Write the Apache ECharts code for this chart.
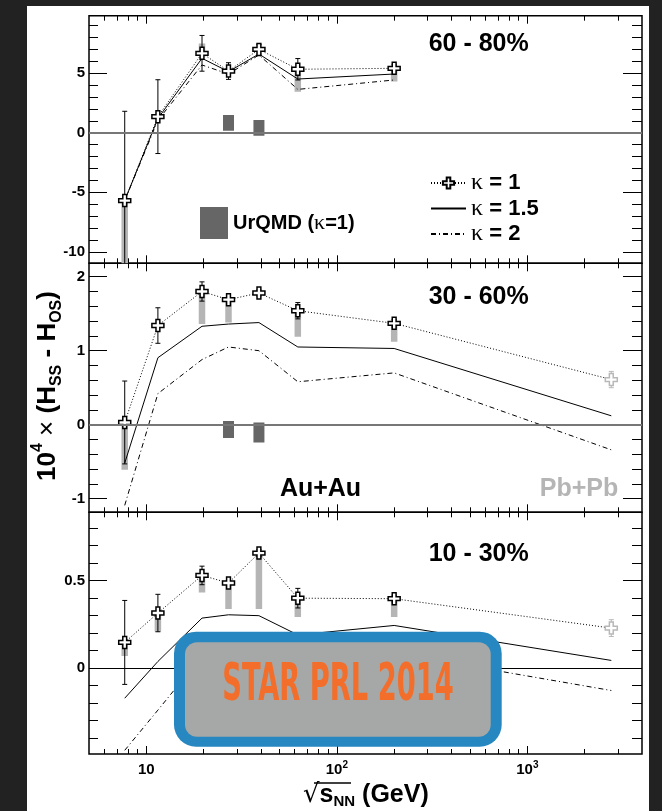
<!DOCTYPE html>
<html><head><meta charset="utf-8">
<script src="https://cdn.jsdelivr.net/npm/echarts@6/dist/echarts.min.js"></script>
<style>
html,body{margin:0;padding:0;background:#222;}
#bg{position:absolute;left:27px;top:6px;width:622px;height:805px;background:#fff;}
#chart{position:absolute;left:0;top:0;width:662px;height:811px;}
</style></head><body><div id="bg"></div><div id="chart"></div>
<script>
// ---------- data ----------
const energies = [7.7, 11.5, 19.6, 27, 39, 62.4, 200];
const energyPbPb = 2760;
const energyUrQMD = [27, 39];

// 60 - 80 %
const k1_60_80   = [-5.7, 1.35, 6.67, 5.18, 7.0, 5.33, 5.41];
const stat_60_80 = [7.5, 3.1, 1.5, 0.7, 0.4, 0.9, 0.3];
const sysLo_60_80 = [-15, null, 6.6, null, null, 3.45, 4.3];
const sysHi_60_80 = [-5.7, null, 7.5, null, null, 5.33, 5.41];
const k15_60_80  = [-5.7, 1.2, 6.25, 5.13, 6.61, 4.51, 4.93];
const k2_60_80   = [-5.7, 1.05, 5.69, 4.93, 6.53, 3.64, 4.43];
const urqmdLo_60_80 = [0.17, -0.25];
const urqmdHi_60_80 = [1.49, 1.07];

// 30 - 60 %
const k1_30_60   = [0.03, 1.34, 1.80, 1.69, 1.78, 1.54, 1.37];
const stat_30_60 = [0.56, 0.24, 0.13, 0.05, 0.04, 0.11, 0.05];
const sysLo_30_60 = [-0.61, null, 1.36, 1.38, null, 1.19, 1.12];
const sysHi_30_60 = [0.03, null, 1.80, 1.69, null, 1.54, 1.37];
const k15_30_60  = [-0.52, 0.905, 1.33, 1.36, 1.38, 1.05, 1.03];
const k2_30_60   = [-1.09, 0.42, 0.88, 1.05, 1.0, 0.58, 0.70];
const urqmdLo_30_60 = [-0.18, -0.24];
const urqmdHi_30_60 = [0.05, 0.03];
const pbpb_30_60 = {k1: 0.61, stat: 0.11, k15: 0.12, k2: -0.34};

// 10 - 30 %
const k1_10_30   = [0.147, 0.315, 0.53, 0.487, 0.658, 0.40, 0.397];
const stat_10_30 = [0.24, 0.107, 0.053, 0.02, 0.02, 0.056, 0.02];
const sysLo_10_30 = [0.07, 0.21, 0.433, 0.338, 0.338, 0.292, 0.292];
const sysHi_10_30 = [0.147, 0.315, 0.53, 0.487, 0.658, 0.40, 0.397];
const k15_10_30  = [-0.172, 0.038, 0.286, 0.305, 0.30, 0.19, 0.244];
const k2_10_30   = [-0.47, -0.24, 0.07, 0.12, 0.10, 0.0, 0.087];
const pbpb_10_30 = {k1: 0.229, stat: 0.048, k15: 0.044, k2: -0.128};

// axis ticks
const xMajorTicks = [10, 100, 1000];
const xMinorTicks = [6, 7, 8, 9, 20, 30, 40, 50, 60, 70, 80, 90, 200, 300, 400, 500, 600, 700, 800, 900, 2000, 3000];
const yMajor_60_80 = [-10, -5, 0, 5];
const yMinor_60_80 = [-10, -9, -8, -7, -6, -5, -4, -3, -2, -1, 0, 1, 2, 3, 4, 5, 6, 7, 8, 9];
const yMajor_30_60 = [-1, 0, 1, 2];
const yMinor_30_60 = [-1, -0.8, -0.6, -0.4, -0.2, 0, 0.2, 0.4, 0.6, 0.8, 1, 1.2, 1.4, 1.6, 1.8, 2];
const yMajor_10_30 = [0, 0.5];
const yMinor_10_30 = [-0.4, -0.3, -0.2, -0.1, 0, 0.1, 0.2, 0.3, 0.4, 0.5, 0.6, 0.7, 0.8];
const centralityLabels = ['60 - 80%', '30 - 60%', '10 - 30%'];

// ---------- build ----------
const FONT = 'Liberation Sans';
const crossPath = 'path://M3.4,0 H6.6 V3.4 H10 V6.6 H6.6 V10 H3.4 V6.6 H0 V3.4 H3.4 Z';

const panels = [
  {top: 15.7, height: 247.6, min: -10.97, max: 9.83, major: yMajor_60_80, minor: yMinor_60_80,
   k1: k1_60_80, stat: stat_60_80, sysLo: sysLo_60_80, sysHi: sysHi_60_80, k15: k15_60_80, k2: k2_60_80,
   uLo: urqmdLo_60_80, uHi: urqmdHi_60_80, pb: null, zeroColor: '#777', zeroWidth: 2},
  {top: 263.3, height: 249, min: -1.184, max: 2.181, major: yMajor_30_60, minor: yMinor_30_60,
   k1: k1_30_60, stat: stat_30_60, sysLo: sysLo_30_60, sysHi: sysHi_30_60, k15: k15_30_60, k2: k2_30_60,
   uLo: urqmdLo_30_60, uHi: urqmdHi_30_60, pb: pbpb_30_60, zeroColor: '#777', zeroWidth: 2},
  {top: 512.3, height: 241.7, min: -0.491, max: 0.891, major: yMajor_10_30, minor: yMinor_10_30,
   k1: k1_10_30, stat: stat_10_30, sysLo: sysLo_10_30, sysHi: sysHi_10_30, k15: k15_10_30, k2: k2_10_30,
   uLo: null, uHi: null, pb: pbpb_10_30, zeroColor: '#000', zeroWidth: 1}
];

const grids = [], xAxes = [], yAxes = [], series = [];

function xAx(gi, pos, vals, len, withLabels) {
  return {
    type: 'log', logBase: 10, min: 5, max: 4000, gridIndex: gi, position: pos,
    axisLine: {show: false, onZero: false}, splitLine: {show: false},
    axisTick: {show: true, inside: true, length: len, customValues: vals, lineStyle: {color: '#000', width: 1}},
    axisLabel: withLabels ? {
      show: true, customValues: vals, margin: 6,
      formatter: function (v) {
        const e = Math.round(Math.log10(v));
        return e === 1 ? '{b|10}' : '{b|10}{sup|' + e + '}';
      },
      rich: {
        b: {fontFamily: FONT, fontWeight: 'bold', fontSize: 15, lineHeight: 20, color: '#000'},
        sup: {fontFamily: FONT, fontWeight: 'bold', fontSize: 10, lineHeight: 8, verticalAlign: 'top', color: '#000'}
      }
    } : {show: false}
  };
}
function yAx(gi, pos, vals, len, withLabels, p) {
  return {
    type: 'value', gridIndex: gi, position: pos, min: p.min, max: p.max,
    axisLine: {show: false, onZero: false}, splitLine: {show: false},
    axisTick: {show: true, inside: true, length: len, customValues: vals, lineStyle: {color: '#000', width: 1}},
    axisLabel: withLabels ? {show: true, customValues: vals, margin: 4, color: '#000',
      fontFamily: FONT, fontWeight: 'bold', fontSize: 15} : {show: false}
  };
}
function barRender(width, color) {
  return function (params, api) {
    const x = api.value(0), lo = api.value(1), hi = api.value(2);
    const a = api.coord([x, hi]), b = api.coord([x, lo]);
    return {type: 'rect', shape: {x: a[0] - width / 2, y: a[1], width: width, height: b[1] - a[1]},
      style: {fill: color}};
  };
}
function errRender(params, api) {
  const x = api.value(0), y = api.value(1), e = api.value(2), pb = api.value(3);
  const a = api.coord([x, y + e]), b = api.coord([x, y - e]);
  const c = pb ? '#b8b8b8' : '#000';
  return {type: 'group', children: [
    {type: 'line', shape: {x1: a[0], y1: a[1], x2: b[0], y2: b[1]}, style: {stroke: c, lineWidth: 1}},
    {type: 'line', shape: {x1: a[0] - 2.5, y1: a[1], x2: a[0] + 2.5, y2: a[1]}, style: {stroke: c, lineWidth: 1}},
    {type: 'line', shape: {x1: b[0] - 2.5, y1: b[1], x2: b[0] + 2.5, y2: b[1]}, style: {stroke: c, lineWidth: 1}}
  ]};
}

panels.forEach(function (p, gi) {
  grids.push({left: 89, width: 553, top: p.top, height: p.height, show: true,
    borderColor: '#000', borderWidth: 1.5, backgroundColor: 'transparent', containLabel: false});
  const base = gi * 4;
  xAxes.push(xAx(gi, 'bottom', xMajorTicks, 8, gi === 2));
  xAxes.push(xAx(gi, 'bottom', xMinorTicks, 5, false));
  xAxes.push(xAx(gi, 'top', xMajorTicks, 8, false));
  xAxes.push(xAx(gi, 'top', xMinorTicks, 5, false));
  yAxes.push(yAx(gi, 'left', p.major, 18, true, p));
  yAxes.push(yAx(gi, 'left', p.minor, 9, false, p));
  yAxes.push(yAx(gi, 'right', p.major, 19, false, p));
  yAxes.push(yAx(gi, 'right', p.minor, 10, false, p));

  const xi = base, yi = base;
  // systematic bars
  const sysData = [];
  energies.forEach(function (e, i) {
    if (p.sysLo[i] !== null) sysData.push([e, p.sysLo[i], p.sysHi[i]]);
  });
  series.push({type: 'custom', name: 'sys' + gi, xAxisIndex: xi, yAxisIndex: yi, clip: true, z: 1,
    renderItem: barRender(6.5, '#b5b5b5'), encode: {x: 0, y: [1, 2]}, data: sysData, silent: true});
  // UrQMD
  if (p.uLo) {
    series.push({type: 'custom', name: 'UrQMD (κ=1)', xAxisIndex: xi, yAxisIndex: yi, clip: true, z: 1,
      itemStyle: {color: '#666'},
      renderItem: barRender(11, '#666'), encode: {x: 0, y: [1, 2]},
      data: energyUrQMD.map(function (e, i) { return [e, p.uLo[i], p.uHi[i]]; }), silent: true});
  }
  const withPb = function (arr, key) {
    const d = energies.map(function (e, i) { return [e, arr[i]]; });
    if (p.pb) d.push([energyPbPb, p.pb[key]]);
    return d;
  };
  // kappa = 2
  series.push({type: 'line', name: 'κ = 2', xAxisIndex: xi, yAxisIndex: yi, z: 2,
    data: withPb(p.k2, 'k2'), showSymbol: false, symbol: 'none',
    lineStyle: {color: '#000', width: 1, type: [5, 3, 1, 3]}, itemStyle: {color: '#000'}});
  // kappa = 1.5
  series.push({type: 'line', name: 'κ = 1.5', xAxisIndex: xi, yAxisIndex: yi, z: 2,
    data: withPb(p.k15, 'k15'), showSymbol: false, symbol: 'none',
    lineStyle: {color: '#000', width: 1, type: 'solid'}, itemStyle: {color: '#000'},
    markLine: {silent: true, symbol: 'none', label: {show: false}, animation: false,
      lineStyle: {color: p.zeroColor, width: p.zeroWidth, type: 'solid'}, data: [{yAxis: 0}]}});
  // stat errors
  const errData = energies.map(function (e, i) { return [e, p.k1[i], p.stat[i], 0]; });
  if (p.pb) errData.push([energyPbPb, p.pb.k1, p.pb.stat, 1]);
  series.push({type: 'custom', name: 'stat' + gi, xAxisIndex: xi, yAxisIndex: yi, clip: true, z: 3,
    renderItem: errRender, encode: {x: 0, y: 1}, data: errData, silent: true});
  // kappa = 1 (data points)
  const k1Data = energies.map(function (e, i) { return [e, p.k1[i]]; });
  if (p.pb) k1Data.push({value: [energyPbPb, p.pb.k1], itemStyle: {borderColor: '#b8b8b8'}});
  series.push({type: 'line', name: 'κ = 1', xAxisIndex: xi, yAxisIndex: yi, z: 4,
    data: k1Data, symbol: crossPath, symbolSize: 12, showSymbol: true,
    lineStyle: {color: '#000', width: 1, type: [1, 2]},
    itemStyle: {color: '#fff', borderColor: '#000', borderWidth: 1.5}});
});

const graphics = [];
const labelY = [44.5, 297.5, 554];
centralityLabels.forEach(function (t, i) {
  graphics.push({type: 'text', x: 478.7, y: labelY[i], z: 50,
    style: {text: t, fontFamily: FONT, fontWeight: 'bold', fontSize: 25, fill: '#000',
      align: 'center', verticalAlign: 'middle'}});
});
graphics.push({type: 'text', x: 320.5, y: 489, z: 50,
  style: {text: 'Au+Au', fontFamily: FONT, fontWeight: 'bold', fontSize: 25, fill: '#000', align: 'center', verticalAlign: 'middle'}});
graphics.push({type: 'text', x: 579, y: 489, z: 50,
  style: {text: 'Pb+Pb', fontFamily: FONT, fontWeight: 'bold', fontSize: 25, fill: '#b5b5b5', align: 'center', verticalAlign: 'middle'}});
// y axis title
graphics.push({type: 'text', x: 47.5, y: 386, rotation: Math.PI / 2, z: 50,
  style: {text: '{n|10}{sup|4}{x| × }{n|(H}{sub|SS}{n| - H}{sub|OS}{n|)}', align: 'center', verticalAlign: 'middle',
    rich: {
      n: {fontFamily: FONT, fontWeight: 'bold', fontSize: 26, lineHeight: 35, fill: '#000'},
      x: {fontFamily: FONT, fontWeight: 'normal', fontSize: 26, lineHeight: 35, fill: '#000'},
      sup: {fontFamily: FONT, fontWeight: 'bold', fontSize: 16, lineHeight: 13, verticalAlign: 'top', fill: '#000'},
      sub: {fontFamily: FONT, fontWeight: 'bold', fontSize: 16, lineHeight: 13, verticalAlign: 'bottom', fill: '#000'}
    }}});
// x axis title
graphics.push({type: 'text', x: 303, y: 795, z: 50,
  style: {text: '{r|√}{s|s}{sub|NN}{n| (GeV)}', align: 'left', verticalAlign: 'middle',
    rich: {
      r: {fontFamily: 'DejaVu Sans', fontWeight: 'normal', fontSize: 26, lineHeight: 29, fill: '#000'},
      s: {fontFamily: FONT, fontWeight: 'bold', fontSize: 25, lineHeight: 29, fill: '#000'},
      n: {fontFamily: FONT, fontWeight: 'bold', fontSize: 25, lineHeight: 29, fill: '#000'},
      sub: {fontFamily: FONT, fontWeight: 'bold', fontSize: 15, lineHeight: 13, verticalAlign: 'bottom', fill: '#000'}
    }}});
graphics.push({type: 'line', z: 50, shape: {x1: 314, y1: 783, x2: 351, y2: 783}, style: {stroke: '#000', lineWidth: 1.5}});
// STAR PRL 2014 overlay
graphics.push({type: 'rect', z: 100, shape: {x: 174, y: 631.7, width: 327.7, height: 115, r: 22}, style: {fill: '#2787c0'}});
graphics.push({type: 'rect', z: 101, shape: {x: 185, y: 642.3, width: 305.7, height: 94.4, r: 12}, style: {fill: '#a5a8a6'}});
graphics.push({type: 'text', x: 338, y: 687, scaleX: 0.595, z: 102,
  style: {text: 'STAR PRL 2014', fontFamily: "'DejaVu Sans Condensed', 'Liberation Sans Narrow', sans-serif",
    fontWeight: 'bold', fontSize: 51, fill: '#f36e2a', align: 'center', verticalAlign: 'middle'}});

const option = {
  animation: false,
  backgroundColor: 'transparent',
  textStyle: {fontFamily: FONT},
  grid: grids, xAxis: xAxes, yAxis: yAxes, series: series,
  legend: [
    {orient: 'vertical', left: 430, top: 171, padding: 0, itemWidth: 35, itemHeight: 14, itemGap: 1.5, selectedMode: false,
      data: [{name: 'κ = 1'}, {name: 'κ = 1.5', itemStyle: {opacity: 0}}, {name: 'κ = 2', itemStyle: {opacity: 0}}],
      formatter: function (name) { return '{k|κ}{t|' + name.slice(1) + '}'; },
      textStyle: {rich: {
        k: {fontFamily: 'Liberation Serif', fontSize: 24, lineHeight: 22, color: '#000'},
        t: {fontFamily: FONT, fontWeight: 'bold', fontSize: 22, lineHeight: 22, color: '#000'}}}},
    {left: 200, top: 207, padding: 0, itemWidth: 28, itemHeight: 32, selectedMode: false,
      data: [{name: 'UrQMD (κ=1)', icon: 'rect', itemStyle: {color: '#666', borderWidth: 0}}],
      formatter: function () { return '{t|UrQMD (}{k|κ}{t|=1)}'; },
      textStyle: {rich: {
        t: {fontFamily: FONT, fontWeight: 'bold', fontSize: 20, color: '#000'},
        k: {fontFamily: 'Liberation Serif', fontSize: 22, color: '#000'}}}}
  ],
  graphic: graphics
};
const chart = echarts.init(document.getElementById('chart'), null, {renderer: 'canvas'});
chart.setOption(option);
</script></body></html>
